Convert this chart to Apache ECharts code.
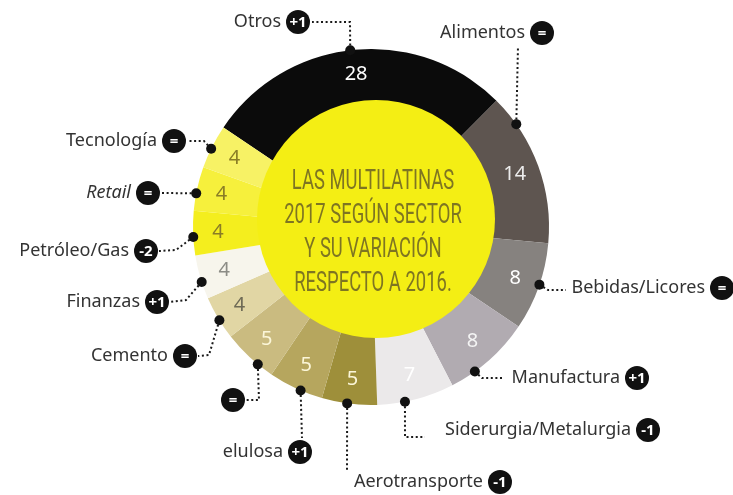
<!DOCTYPE html>
<html><head><meta charset="utf-8">
<script src="https://cdn.jsdelivr.net/npm/echarts@6/dist/echarts.min.js"></script>
<style>html,body{margin:0;padding:0;background:#fff}#c{width:733px;height:495px}</style>
</head><body><div id="c"></div>
<script>
// ---- data ----
const categories = ['Otros','Alimentos','Bebidas/Licores','Manufactura','Siderurgia/Metalurgia','Aerotransporte','elulosa','','Cemento','Finanzas','Petróleo/Gas','Retail','Tecnología'];
const values = [28,14,8,8,7,5,5,5,4,4,4,4,4];
const variation = ['+1','=','=','+1','-1','-1','+1','=','=','+1','-2','=','='];
const titleLines = ['LAS MULTILATINAS','2017 SEGÚN SECTOR','Y SU VARIACIÓN','RESPECTO A 2016.'];

// ---- style / layout ----
const sliceColors = ['#0b0b0b','#5e5550','#86827f','#b1abb1','#ebe9ea','#9e8f3a','#b6a65e','#cabb80','#e1d6a4','#f7f5ec','#f4ee1e','#f6f03c','#f7f265'];
const valueColors = ['#ffffff','#ececec','#ffffff','#f4f4f4','#ffffff','#fbf6d8','#fbf6d8','#fbf6d8','#6e6a55','#8c8c86','#8a7d26','#8a7d26','#8a7d26'];
const italicName = [false,false,false,false,false,false,false,false,false,false,false,true,false];
const RING = {cx:371, cy:227, r0:100, r:178};
const DISC = {cx:376, cy:219, r:119};
const dotAngles = [96.7,35.3,-18.9,-54.3,-79.0,-97.7,-113.3,-129.5,-148.4,-162.0,-176.8,169.1,153.9];
const badgePos = [[298,22],[542,33],[722,288],[637,378],[648,430],[500,482],[300,452],[233,400],[185,356],[157,302],[146,251],[148,193],[174,141]];
const elbows = [[[350,22],[312,22]],[[518,46]],[[548,290],[566,290]],[[482,378],[503,378]],[[405,437],[425,437]],[[347,470]],[[302,438]],[[259,400],[246,400]],[[209,355],[198,356]],[[186,300],[170,302]],[[176,250],[159,251]],[[161,193]],[[204,141],[187,141]]];
const titleY = [182,216,250,284];

const chart = echarts.init(document.getElementById('c'), null, {renderer:'canvas'});

const graphics = [];
categories.forEach((name, i) => {
  const a = dotAngles[i] * Math.PI / 180;
  const dot = [RING.cx + RING.r * Math.cos(a), RING.cy - RING.r * Math.sin(a)];
  graphics.push({type:'polyline', z:100, shape:{points:[dot].concat(elbows[i])},
    style:{stroke:'#1a1a1a', lineWidth:2, lineDash:[2,2.6], fill:null}});
  graphics.push({type:'circle', z:101, shape:{cx:dot[0], cy:dot[1], r:5}, style:{fill:'#111'}});
  const b = badgePos[i];
  graphics.push({type:'circle', z:101, shape:{cx:b[0], cy:b[1], r:12}, style:{fill:'#111'}});
  graphics.push({type:'text', z:102, x:b[0], y:b[1]+0.5, style:{text:variation[i], fill:'#fff',
    font:'bold 15px "Noto Sans"', textAlign:'center', textVerticalAlign:'middle'}});
  if (name) {
    graphics.push({type:'text', z:102, x:b[0]-17, y:b[1], style:{text:name, fill:'#333',
      font:(italicName[i]?'italic ':'')+'18px "Noto Sans"', textAlign:'right', textVerticalAlign:'middle'}});
  }
});
titleLines.forEach((t, k) => {
  graphics.push({type:'text', z:120, x:373, y:titleY[k], scaleX:0.97, scaleY:1.48,
    style:{text:t, fill:'#7e7522', font:'19px Roboto',
      textAlign:'center', textVerticalAlign:'middle'}});
});

const ringData = categories.map((n, i) => ({name:n || ' ', value:values[i], itemStyle:{color:sliceColors[i]}}));
const valueData = categories.map((n, i) => ({name:n || ' ', value:values[i],
  label:{color:valueColors[i]}}));

chart.setOption({
  animation:false,
  backgroundColor:'#ffffff',
  series:[
    {type:'pie', center:[RING.cx, RING.cy], radius:[RING.r0, RING.r], startAngle:146, clockwise:true,
     silent:true, avoidLabelOverlap:false, label:{show:false}, labelLine:{show:false},
     itemStyle:{borderWidth:0}, data:ringData},
    {type:'pie', center:[DISC.cx, DISC.cy], radius:[0, DISC.r], silent:true,
     label:{show:false}, labelLine:{show:false},
     data:[{name:'disc', value:1, itemStyle:{color:'#f4ee14'}}]},
    {type:'pie', center:[RING.cx, RING.cy], radius:[122, RING.r], startAngle:146, clockwise:true,
     silent:true, avoidLabelOverlap:false, minShowLabelAngle:0,
     itemStyle:{color:'rgba(0,0,0,0)', borderWidth:0},
     label:{show:true, position:'inside', formatter:'{c}', fontSize:20, fontFamily:'Noto Sans'},
     labelLine:{show:false}, data:valueData}
  ],
  graphic:graphics
});
</script></body></html>
